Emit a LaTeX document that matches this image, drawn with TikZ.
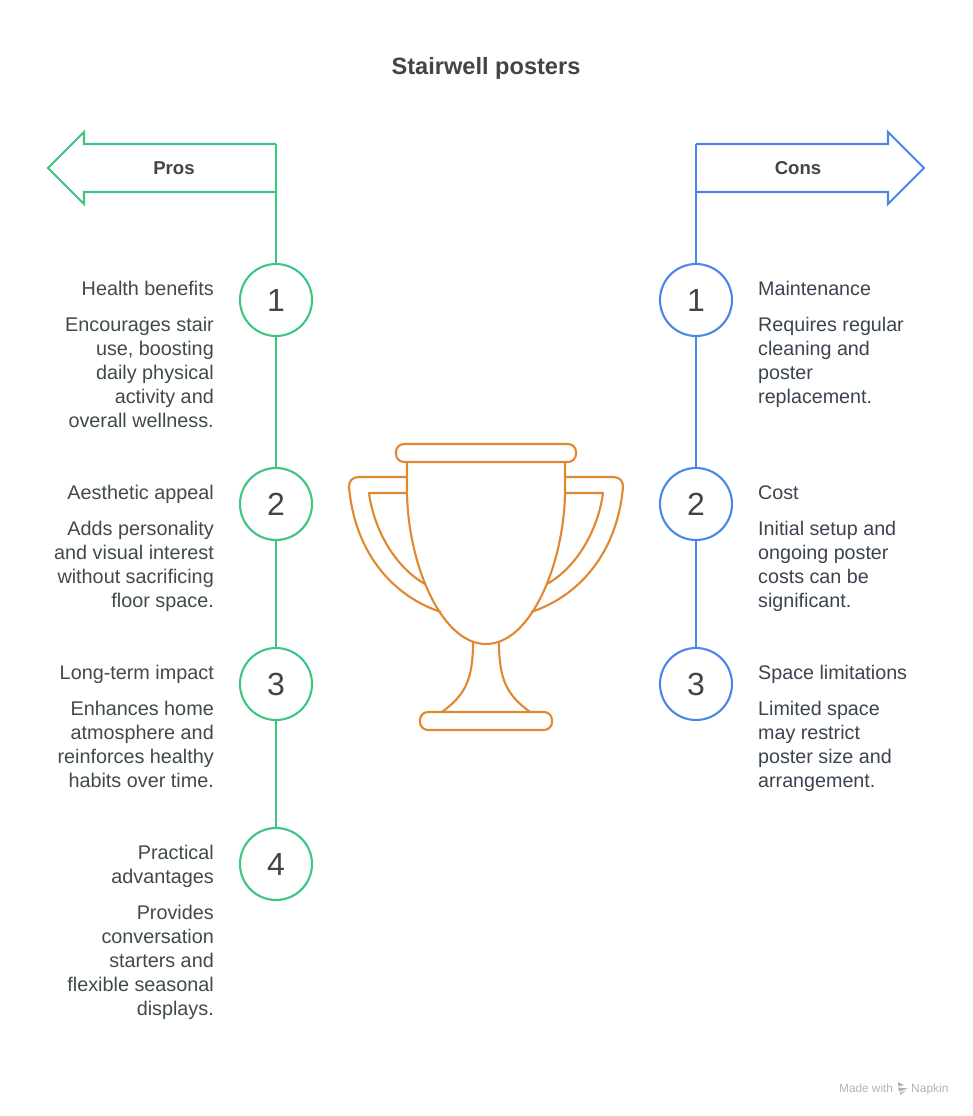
\documentclass[tikz,border=0pt]{standalone}
\usepackage{fontspec}
\setmainfont{Liberation Sans}
\newcommand{\ts}{\rule{0pt}{17pt}}
\definecolor{gr}{HTML}{3CC583}
\definecolor{bl}{HTML}{4A86E8}
\definecolor{og}{HTML}{E0872F}
\definecolor{ttl}{HTML}{444444}
\definecolor{lt}{HTML}{3F4B47}
\definecolor{rt}{HTML}{3A4450}
\tikzset{
  line/.style={line width=2.1pt,line join=miter},
  num/.style={circle,draw,line width=2.1pt,minimum size=72pt,inner sep=0pt,text=ttl,font=\fontsize{32}{36}\selectfont},
  lefttext/.style={anchor=north east,align=right,inner sep=0pt,text=lt,font=\fontsize{19.8}{24}\selectfont},
  righttext/.style={anchor=north west,align=left,inner sep=0pt,text=rt,font=\fontsize{19.7}{24}\selectfont},
  head/.style={inner sep=0pt,text=ttl,font=\fontsize{18.6}{24}\selectfont\bfseries},
  cup/.style={draw=og,line width=2.1pt,line join=round,fill=none},
}
\begin{document}
\begin{tikzpicture}[x=1pt,y=-1pt]
\useasboundingbox (0,0) rectangle (972,1116);
\node[inner sep=0pt,text=ttl,font=\fontsize{23.6}{28}\selectfont\bfseries] (title) at (486,68) {Stairwell posters};

% Pros
\coordinate (pa) at (276,144);
\coordinate (pb) at (276,192);
\draw[line,gr] (pa) -- (84,144) -- (84,132) -- (48,168) -- (84,204) -- (84,192) -- (pb);
\draw[line,gr] (pa) -- (pb);
\node[head] (pros) at (174,168) {Pros};
\node[num,draw=gr] (p1) at (276,300) {1};
\node[num,draw=gr] (p2) at (276,504) {2};
\node[num,draw=gr] (p3) at (276,684) {3};
\node[num,draw=gr] (p4) at (276,864) {4};
\draw[line,gr] (pb) -- (p1);
\draw[line,gr] (p1) -- (p2);
\draw[line,gr] (p2) -- (p3);
\draw[line,gr] (p3) -- (p4);

\node[lefttext] (ph1) at (214,278) {\ts Health benefits};
\node[lefttext] (pt1) at (214,314) {\ts Encourages stair\\use, boosting\\daily physical\\activity and\\overall wellness.};
\node[lefttext] (ph2) at (214,482) {\ts Aesthetic appeal};
\node[lefttext] (pt2) at (214,518) {\ts Adds personality\\and visual interest\\without sacrificing\\floor space.};
\node[lefttext] (ph3) at (214,662) {\ts Long-term impact};
\node[lefttext] (pt3) at (214,698) {\ts Enhances home\\atmosphere and\\reinforces healthy\\habits over time.};
\node[lefttext] (ph4) at (214,842) {\ts Practical\\advantages};
\node[lefttext] (pt4) at (214,902) {\ts Provides\\conversation\\starters and\\flexible seasonal\\displays.};

% Cons
\coordinate (ca) at (696,144);
\coordinate (cb) at (696,192);
\draw[line,bl] (ca) -- (888,144) -- (888,132) -- (924,168) -- (888,204) -- (888,192) -- (cb);
\draw[line,bl] (ca) -- (cb);
\node[head] (cons) at (798,168) {Cons};
\node[num,draw=bl] (c1) at (696,300) {1};
\node[num,draw=bl] (c2) at (696,504) {2};
\node[num,draw=bl] (c3) at (696,684) {3};
\draw[line,bl] (cb) -- (c1);
\draw[line,bl] (c1) -- (c2);
\draw[line,bl] (c2) -- (c3);

\node[righttext] (ch1) at (758,278) {\ts Maintenance};
\node[righttext] (ct1) at (758,314) {\ts Requires regular\\cleaning and\\poster\\replacement.};
\node[righttext] (ch2) at (758,482) {\ts Cost};
\node[righttext] (ct2) at (758,518) {\ts Initial setup and\\ongoing poster\\costs can be\\significant.};
\node[righttext] (ch3) at (758,662) {\ts Space limitations};
\node[righttext] (ct3) at (758,698) {\ts Limited space\\may restrict\\poster size and\\arrangement.};

% Trophy
\draw[cup,rounded corners=8pt] (396,444) rectangle (576,462);
\draw[cup] (407,462) -- (407,490) .. controls (407,560) and (440,644) .. (486,644) .. controls (532,644) and (565,560) .. (565,490) -- (565,462);
\draw[cup] (407,477) -- (359,477) .. controls (352,477) and (349,481) .. (349,487) .. controls (355,555) and (395,597) .. (441,612);
\draw[cup] (407,493) -- (369,493) .. controls (374,530) and (395,567) .. (425,584);
\draw[cup] (565,477) -- (613,477) .. controls (620,477) and (623,481) .. (623,487) .. controls (617,555) and (577,597) .. (531,612);
\draw[cup] (565,493) -- (603,493) .. controls (598,530) and (577,567) .. (547,584);
\draw[cup] (473,642) .. controls (473,680) and (465,695) .. (442,712);
\draw[cup] (499,642) .. controls (499,680) and (507,695) .. (530,712);
\draw[cup,rounded corners=8pt] (420,712) rectangle (552,730);

% Watermark
\node[anchor=base west,inner sep=0pt,text=black!30,font=\fontsize{11.8}{14}\selectfont] (made) at (839,1092) {Made with};
\node[anchor=base west,inner sep=0pt,text=black!30,font=\fontsize{12}{14}\selectfont] (nap) at (911,1092) {Napkin};
\fill[black!30] (898,1082) -- (904,1085) -- (898,1086.5) -- cycle;
\fill[black!30] (898,1087.5) -- (908,1088.5) -- (899,1091.5) -- cycle;
\fill[black!30] (900,1092.5) -- (906,1090.5) -- (900,1095) -- cycle;
\end{tikzpicture}
\end{document}
